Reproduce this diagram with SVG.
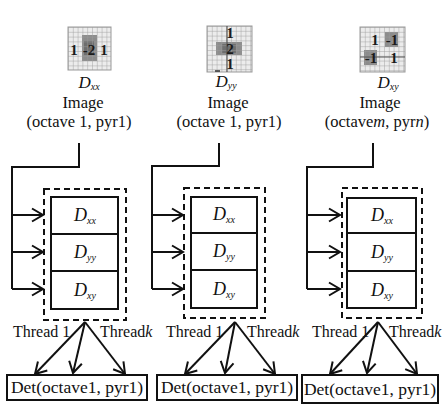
<svg xmlns="http://www.w3.org/2000/svg" width="443" height="407" viewBox="0 0 443 407" font-family="'Liberation Serif', 'Times New Roman', serif">
<defs>
<style>
text{font-family:'Liberation Serif','Times New Roman',serif;fill:#111}
.lbl{font-size:16.5px;text-anchor:middle}
.dl{font-size:17px;font-style:italic;text-anchor:middle}
.db{font-size:18px;font-style:italic;text-anchor:middle}
.sub{font-size:10px;font-style:italic}
.th{font-size:16px}
.det{font-size:17.5px;text-anchor:middle}
.gt{font-size:15px;font-weight:bold;text-anchor:middle;fill:#1a1a1a}
.dash{fill:none;stroke:#111;stroke-width:2;stroke-dasharray:6 4}
.box{fill:#fff;stroke:#111;stroke-width:2}
.con{fill:none;stroke:#111;stroke-width:2;marker-end:url(#ah)}
.line{fill:none;stroke:#111;stroke-width:2}
.gbg{fill:#ececec}
.gdk{fill:#8c8c8c}
.gdk2{fill:#6e6e6e}
.glines{fill:url(#grid)}
.gframe{fill:none;stroke:#999;stroke-width:1}
</style>
<pattern id="grid" patternUnits="userSpaceOnUse" width="4.8" height="4.8">
<path d="M0,0 H4.8 M0,0 V4.8" stroke="#9c9c9c" stroke-width="0.9" fill="none"/>
</pattern>
<marker id="ah" markerUnits="userSpaceOnUse" markerWidth="16" markerHeight="16" viewBox="-13 -8 16 16" refX="0" refY="0" orient="auto">
<path d="M-11,-6.5 L0,0 L-11,6.5" fill="none" stroke="#111" stroke-width="2"/>
</marker>
</defs>
<rect width="443" height="407" fill="#fff"/>

<!-- Panel 1 -->
<g id="grid1" transform="translate(68,27)">
<rect class="gbg" width="43" height="43"/>
<rect class="gdk" x="14" y="8" width="15" height="26"/>
<rect class="gdk2" x="16" y="14" width="10" height="14"/>
<rect class="glines" width="43" height="43"/>
<rect class="gframe" width="43" height="43"/>
<text class="gt" x="6" y="28">1</text>
<text class="gt" x="21" y="28">-2</text>
<text class="gt" x="36" y="28">1</text>
</g>
<g id="image1">
<text class="dl" x="89" y="87.5">D<tspan class="sub" dy="2">xx</tspan></text>
<text class="lbl" x="83" y="108">Image</text>
<text class="lbl" x="79" y="127">(octave 1, pyr1)</text>
</g>
<g id="kernels1">
<rect class="dash" x="44" y="189" width="82" height="131"/>
<rect class="box" x="51" y="197" width="67" height="112"/>
<path class="line" d="M51,234 H118 M51,271 H118"/>
<text class="db" x="85" y="221">D<tspan class="sub" dy="3">xx</tspan></text>
<text class="db" x="85" y="258">D<tspan class="sub" dy="3">yy</tspan></text>
<text class="db" x="85" y="296">D<tspan class="sub" dy="3">xy</tspan></text>
</g>
<g id="threads1">
<text class="th" x="13" y="337">Thread 1</text>
<text class="th" x="100" y="337">Thread<tspan font-style="italic">k</tspan></text>
</g>
<g id="det1">
<rect class="box" x="7" y="375" width="140" height="25"/>
<text class="det" x="77" y="393">Det(octave1, pyr1)</text>
</g>

<!-- Panel 2 -->
<g id="grid2" transform="translate(207,26)">
<rect class="gbg" width="45" height="46"/>
<rect class="gdk" x="9" y="16" width="26" height="13"/>
<rect class="gdk2" x="15" y="18" width="14" height="9"/>
<rect class="glines" width="45" height="46"/>
<rect class="gframe" width="45" height="46"/>
<path d="M20,0 V46" stroke="#444" stroke-width="1"/>
<text class="gt" x="23" y="12">1</text>
<text class="gt" x="23" y="28">2</text>
<text class="gt" x="23" y="43">1</text>
<path d="M8,45 H13" stroke="#333" stroke-width="1.5"/>
</g>
<g id="image2">
<text class="dl" x="226" y="86.5">D<tspan class="sub" dy="2">yy</tspan></text>
<text class="lbl" x="228" y="108">Image</text>
<text class="lbl" x="229" y="127">(octave 1, pyr1)</text>
</g>
<g id="kernels2">
<rect class="dash" x="184" y="188" width="81" height="130"/>
<rect class="box" x="191" y="197" width="66" height="111"/>
<path class="line" d="M191,233 H257 M191,270 H257"/>
<text class="db" x="224" y="220">D<tspan class="sub" dy="3">xx</tspan></text>
<text class="db" x="224" y="257">D<tspan class="sub" dy="3">yy</tspan></text>
<text class="db" x="224" y="295">D<tspan class="sub" dy="3">xy</tspan></text>
</g>
<g id="threads2">
<text class="th" x="166" y="337">Thread 1</text>
<text class="th" x="247" y="337">Thread<tspan font-style="italic">k</tspan></text>
</g>
<g id="det2">
<rect class="box" x="157" y="375" width="140" height="25"/>
<text class="det" x="227" y="393">Det(octave1, pyr1)</text>
</g>

<!-- Panel 3 -->
<g id="grid3" transform="translate(360,27)">
<rect class="gbg" width="45" height="45"/>
<rect class="gdk" x="25" y="5" width="13" height="15"/>
<rect class="gdk" x="4" y="23" width="13" height="15"/>
<rect class="glines" width="45" height="45"/>
<rect class="gframe" width="45" height="45"/>
<path d="M0,30 H45" stroke="#555" stroke-width="1"/>
<text class="gt" x="15" y="18">1</text>
<text class="gt" x="32" y="18">-1</text>
<text class="gt" x="11" y="36">-1</text>
<text class="gt" x="34" y="36">1</text>
</g>
<g id="image3">
<text class="dl" x="388" y="87.5">D<tspan class="sub" dy="2">xy</tspan></text>
<text class="lbl" x="380" y="108">Image</text>
<text class="lbl" x="377" y="127">(octave<tspan font-style="italic">m</tspan>, pyr<tspan font-style="italic">n</tspan>)</text>
</g>
<g id="kernels3">
<rect class="dash" x="342" y="188" width="80" height="130"/>
<rect class="box" x="347" y="198" width="69" height="110"/>
<path class="line" d="M347,233 H416 M347,271 H416"/>
<text class="db" x="382" y="221">D<tspan class="sub" dy="3">xx</tspan></text>
<text class="db" x="382" y="258">D<tspan class="sub" dy="3">yy</tspan></text>
<text class="db" x="382" y="296">D<tspan class="sub" dy="3">xy</tspan></text>
</g>
<g id="threads3">
<text class="th" x="312" y="337">Thread 1</text>
<text class="th" x="389" y="337">Thread<tspan font-style="italic">k</tspan></text>
</g>
<g id="det3">
<rect class="box" x="302" y="375" width="136" height="28"/>
<text class="det" x="370" y="395">Det(octave1, pyr1)</text>
</g>

<!-- Connectors -->
<g id="connectors">
<path class="line" d="M79,143 V167 H12 V289"/>
<path class="con" d="M12,215 H43"/>
<path class="con" d="M12,252 H43"/>
<path class="con" d="M12,289 H43"/>
<path class="con" d="M85,322 L35,374"/>
<path class="con" d="M85,322 L73,373"/>
<path class="con" d="M85,322 L125,374"/>

<path class="line" d="M219,143 V166 H152 V289"/>
<path class="con" d="M152,215 H183"/>
<path class="con" d="M152,252 H183"/>
<path class="con" d="M152,289 H183"/>
<path class="con" d="M235,322 L185,374"/>
<path class="con" d="M235,322 L225,373"/>
<path class="con" d="M235,322 L275,374"/>

<path class="line" d="M373,143 V167 H307 V289"/>
<path class="con" d="M307,215 H340"/>
<path class="con" d="M307,252 H340"/>
<path class="con" d="M307,289 H340"/>
<path class="con" d="M378,322 L330,374"/>
<path class="con" d="M378,322 L367,373"/>
<path class="con" d="M378,322 L417,374"/>
</g>
</svg>
